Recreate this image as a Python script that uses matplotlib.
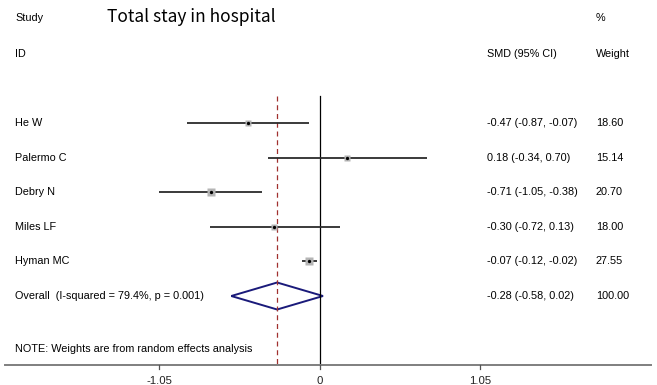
import numpy as np
import matplotlib.pyplot as plt

# study data
studies = ["He W", "Palermo C", "Debry N", "Miles LF", "Hyman MC"]
smd = [-0.47, 0.18, -0.71, -0.30, -0.07]
ci_low = [-0.87, -0.34, -1.05, -0.72, -0.12]
ci_high = [-0.07, 0.70, -0.38, 0.13, -0.02]
weights = [18.60, 15.14, 20.70, 18.00, 27.55]

overall_label = "Overall  (I-squared = 79.4%, p = 0.001)"
overall_smd = -0.28
overall_low = -0.58
overall_high = 0.02
overall_weight = 100.00

tick_vals = [-1.05, 0, 1.05]
tick_labels = ["-1.05", "0", "1.05"]

plt.rcParams['font.family'] = ['Liberation Sans', 'DejaVu Sans']

fig = plt.figure(figsize=(6.57, 3.85), dpi=100)
ax = fig.add_axes([0, 0, 1, 1])
ax.set_xlim(-2.093, 2.205)
ax.set_ylim(8.572, -2.555)
ax.axis('off')

rows = np.arange(1, len(studies) + 1)
ov_row = len(studies) + 1
axis_y = 7.99

# reference lines
ax.plot([0, 0], [0.22, axis_y], color='black', lw=0.9)
ax.plot([overall_smd, overall_smd], [0.22, axis_y], color='#a0302f', lw=0.9, ls=(0, (4, 3)))

# study estimates
for r, m, lo, hi, w in zip(rows, smd, ci_low, ci_high, weights):
    ax.plot([lo, hi], [r, r], color='#2b2b2b', lw=1.3, solid_capstyle='butt')
    ax.plot(m, r, marker='s', ms=1.15 * np.sqrt(w), color='#b5b5b5', mec='none')
    ax.plot(m, r, marker='o', ms=2.4, color='black', mec='none')

# diamond
h = 0.39
ax.fill([overall_low, overall_smd, overall_high, overall_smd, overall_low],
        [ov_row, ov_row - h, ov_row, ov_row + h, ov_row],
        facecolor='white', edgecolor='#1a1a7a', lw=1.4)

# x axis
ax.plot([-2.061, 2.165], [axis_y, axis_y], color='#7f7f7f', lw=1.4)
for v, lab in zip(tick_vals, tick_labels):
    ax.plot([v, v], [axis_y, axis_y + 0.13], color='#555555', lw=0.9)
    ax.text(v, 8.45, lab, ha='center', va='center', fontsize=8.2, color='#222222')

# text columns
xl = -1.995
xc = 1.092
xw = 1.805
fs = 7.8
ax.text(xl, -2.03, "Study", fontsize=fs, va='center')
ax.text(xl, -0.99, "ID", fontsize=fs, va='center')
ax.text(xc, -0.99, "SMD (95% CI)", fontsize=fs, va='center')
ax.text(xw, -2.03, "%", fontsize=fs, va='center')
ax.text(xw, -0.99, "Weight", fontsize=fs, va='center')
ax.text(-1.39, -2.05, "Total stay in hospital", fontsize=12.5, va='center',
        family=['Noto Sans CJK SC', 'DejaVu Sans'])

for r, s, m, lo, hi, w in zip(rows, studies, smd, ci_low, ci_high, weights):
    ax.text(xl, r, s, fontsize=fs, va='center')
    ax.text(xc, r, f"{m:.2f} ({lo:.2f}, {hi:.2f})", fontsize=fs, va='center')
    ax.text(xw, r, f"{w:.2f}", fontsize=fs, va='center')

ax.text(xl, ov_row, overall_label, fontsize=fs, va='center')
ax.text(xc, ov_row, f"{overall_smd:.2f} ({overall_low:.2f}, {overall_high:.2f})", fontsize=fs, va='center')
ax.text(xw, ov_row, f"{overall_weight:.2f}", fontsize=fs, va='center')

ax.text(xl, 7.53, "NOTE: Weights are from random effects analysis", fontsize=fs, va='center')

fig.savefig('out.png', dpi=100)
